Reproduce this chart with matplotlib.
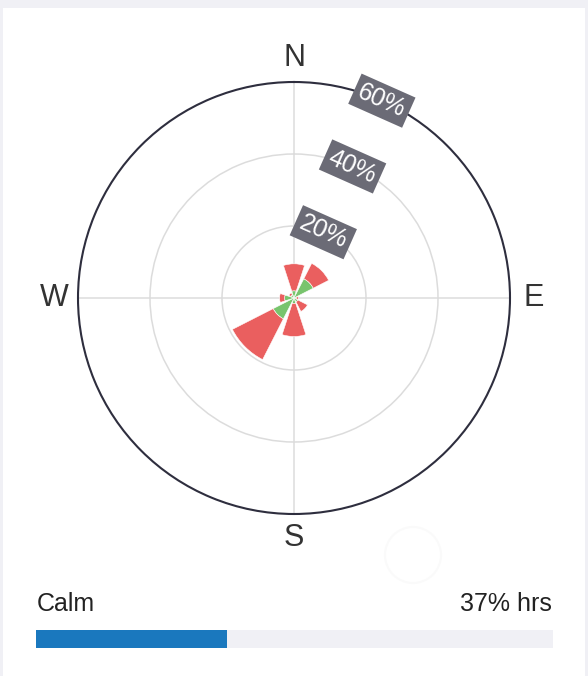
import numpy as np
import matplotlib.pyplot as plt
from matplotlib.patches import Rectangle, Ellipse

plt.rcParams['font.family'] = ['Liberation Sans', 'DejaVu Sans']

# wind rose data (% of hours), stacked: low speed (green) + higher speed (red)
directions = ['N', 'NE', 'E', 'SE', 'S', 'SW', 'W', 'NW']
bearings = [0, 45, 90, 135, 180, 225, 270, 315]
low_speed = [2.0, 6.0, 0.6, 1.2, 1.5, 6.5, 2.6, 1.0]
total = [9.5, 10.8, 1.2, 4.2, 10.7, 19.2, 4.0, 1.6]
ring_labels = [20, 40, 60]
calm_pct = 37

W, H = 588, 676
def fx(px):
    return px / W
def fy(py):
    return 1 - py / H

fig = plt.figure(figsize=(W / 100, H / 100), dpi=100)
fig.patch.set_facecolor('#f0f0f5')
fig.add_artist(Rectangle((fx(3), 0), fx(585) - fx(3), fy(8), transform=fig.transFigure,
                         facecolor='white', edgecolor='none', zorder=-10))

# polar chart, centre (294, 298), radius 216 px
cx, cy, R = 294, 298, 216
ax = fig.add_axes([fx(cx - R), fy(cy + R), 2 * R / W, 2 * R / H], projection='polar')
ax.set_theta_zero_location('N')
ax.set_theta_direction(-1)
ax.set_ylim(0, 60)
ax.set_yticks([20, 40])
ax.set_yticklabels([])
ax.set_xticks(np.radians([0, 90, 180, 270]))
ax.set_xticklabels([])
ax.tick_params(length=0)
ax.grid(color='#dcdcdc', lw=1.1)
ax.spines['polar'].set_color('#2e2e3e')
ax.spines['polar'].set_linewidth(1.5)

theta = np.radians(bearings)
width = np.radians(36)
low = np.array(low_speed)
high = np.array(total) - low
ax.bar(theta, low, width=width, bottom=0, color='#78c46d', edgecolor='white', lw=0.4, zorder=3)
ax.bar(theta, high, width=width, bottom=low, color='#ea5f5f', edgecolor='white', lw=0.4, zorder=3)

for lab, b in zip(['N', 'E', 'S', 'W'], [0, 90, 180, 270]):
    ax.text(np.radians(b), 66.7, lab, ha='center', va='center', fontsize=22,
            color='#333333', clip_on=False)

for r in ring_labels:
    ax.text(np.radians(24), r, f'{r}%', rotation=-24, rotation_mode='anchor',
            ha='center', va='center', color='white', fontsize=18, zorder=6,
            bbox=dict(boxstyle='square,pad=0.18', fc='#6b6b76', ec='none'))

# faint watermark circle
fig.add_artist(Ellipse((fx(413), fy(555)), 56 / W, 56 / H, transform=fig.transFigure,
                       fill=False, ec='#fafafa', lw=1.5))

# calm bar
fig.text(fx(37), fy(611), 'Calm', fontsize=18, color='#222222', va='baseline')
fig.text(fx(552), fy(611), f'{calm_pct}% hrs', fontsize=18, color='#222222',
         va='baseline', ha='right')
ax2 = fig.add_axes([fx(36), fy(648), 517 / W, 18 / H])
ax2.set_facecolor('#f0f0f5')
ax2.barh(0, calm_pct, height=1, color='#1a78be')
ax2.set_xlim(0, 100)
ax2.set_ylim(-0.5, 0.5)
ax2.set_xticks([])
ax2.set_yticks([])
for s in ax2.spines.values():
    s.set_visible(False)

fig.savefig('out.png', dpi=100)
